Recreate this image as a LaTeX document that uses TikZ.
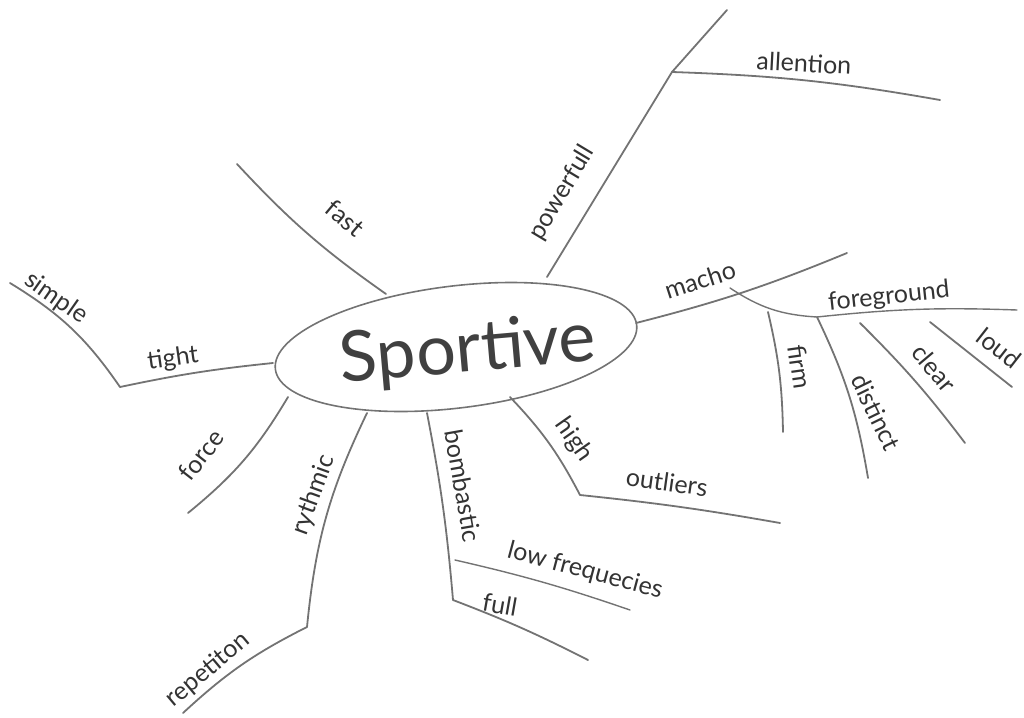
\documentclass[tikz,border=0pt]{standalone}
\usepackage{fontspec}
\setmainfont{Lato}
\usetikzlibrary{positioning, shapes.geometric}

\begin{document}
\begin{tikzpicture}[x=1pt,y=-1pt,
    pencil/.style={draw=black!55, line width=1.8pt, line cap=round, line join=round},
    word/.style={font=\fontsize{25}{27}\selectfont, text=black!80, inner sep=1pt}]
    \useasboundingbox (0,0) rectangle (1024,717);
    % centre
    \node[draw=black!55, line width=1.6pt, ellipse, minimum width=364pt, minimum height=122pt,
          rotate=7] (sp) at (456,347) {};
    \node[font=\fontsize{70}{70}\selectfont, text=black!75, rotate=5] (sportive) at (468,352) {Sportive};
    % points on the ellipse
    \coordinate (efast) at (386,294);
    \coordinate (epow) at (547,277);
    \coordinate (emacho) at (636,323);
    \coordinate (etight) at (273,363);
    \coordinate (eforce) at (288,397);
    \coordinate (eryth) at (367,413);
    \coordinate (ebomb) at (427,413);
    \coordinate (ehigh) at (510,397);
    % junctions and ends
    \coordinate (fastend) at (237,164);
    \coordinate (att) at (672,72);
    \coordinate (powend) at (727,10);
    \coordinate (attend) at (940,100);
    \coordinate (machoend) at (847,253);
    \coordinate (fgstart) at (730,288);
    \coordinate (fgmid) at (817,317);
    \coordinate (fgend) at (1017,310);
    \coordinate (firmtop) at (768,312);
    \coordinate (firmend) at (783,432);
    \coordinate (distend) at (868,478);
    \coordinate (cleartop) at (860,323);
    \coordinate (clearend) at (965,443);
    \coordinate (loudtop) at (930,322);
    \coordinate (loudend) at (1012,387);
    \coordinate (tightend) at (120,387);
    \coordinate (simpleend) at (10,283);
    \coordinate (forceend) at (188,513);
    \coordinate (rythend) at (307,627);
    \coordinate (repend) at (183,713);
    \coordinate (bombend) at (453,600);
    \coordinate (lowstart) at (455,560);
    \coordinate (lowend) at (630,610);
    \coordinate (fullend) at (588,660);
    \coordinate (highend) at (580,495);
    \coordinate (outend) at (780,523);
    % branches
    \draw[pencil] (efast) to[bend left=6] (fastend);
    \draw[pencil] (epow) -- (att) -- (powend);
    \draw[pencil] (att) to[bend left=4] (attend);
    \draw[pencil] (emacho) to[bend right=4] (machoend);
    \draw[pencil, line width=1.4pt] (fgstart) to[bend right=15] (fgmid) to[bend left=4] (fgend);
    \draw[pencil] (firmtop) to[bend left=6] (firmend);
    \draw[pencil] (fgmid) to[bend left=8] (distend);
    \draw[pencil] (cleartop) to[bend left=4] (clearend);
    \draw[pencil] (loudtop) -- (loudend);
    \draw[pencil] (etight) to[bend right=3] (tightend) to[bend right=12] (simpleend);
    \draw[pencil] (eforce) to[bend left=10] (forceend);
    \draw[pencil] (eryth) to[bend right=10] (rythend) to[bend right=8] (repend);
    \draw[pencil] (ebomb) to[bend left=3] (bombend) to[bend left=3] (fullend);
    \draw[pencil, line width=1.4pt] (lowstart) to[bend left=3] (lowend);
    \draw[pencil] (ehigh) to[bend left=8] (highend) to[bend left=2] (outend);
    % labels
    \node[word, rotate=-40] (fast) at (345,218) {fast};
    \node[word, rotate=59] (powerfull) at (562,193) {powerfull};
    \node[word, rotate=-3] (allention) at (804,63) {allention};
    \node[word, rotate=18] (macho) at (700,280) {macho};
    \node[word, rotate=6] (foreground) at (889,297) {foreground};
    \node[word, rotate=-82] (firm) at (800,367) {firm};
    \node[word, rotate=-64] (distinct) at (876,412) {distinct};
    \node[word, rotate=-50] (clear) at (934,368) {clear};
    \node[word, rotate=-38] (loud) at (999,348) {loud};
    \node[word, rotate=8] (tight) at (173,359) {tight};
    \node[word, rotate=-35] (simple) at (56,298) {simple};
    \node[word, rotate=52] (force) at (201,455) {force};
    \node[word, rotate=70] (rythmic) at (314,495) {rythmic};
    \node[word, rotate=40] (repetiton) at (208,670) {repetiton};
    \node[word, rotate=-80] (bombastic) at (463,486) {bombastic};
    \node[word, rotate=-15] (lowfreq) at (585,571) {low frequecies};
    \node[word, rotate=-10] (full) at (500,605) {full};
    \node[word, rotate=-55] (high) at (574,440) {high};
    \node[word, rotate=-8] (outliers) at (667,482) {outliers};
\end{tikzpicture}
\end{document}
